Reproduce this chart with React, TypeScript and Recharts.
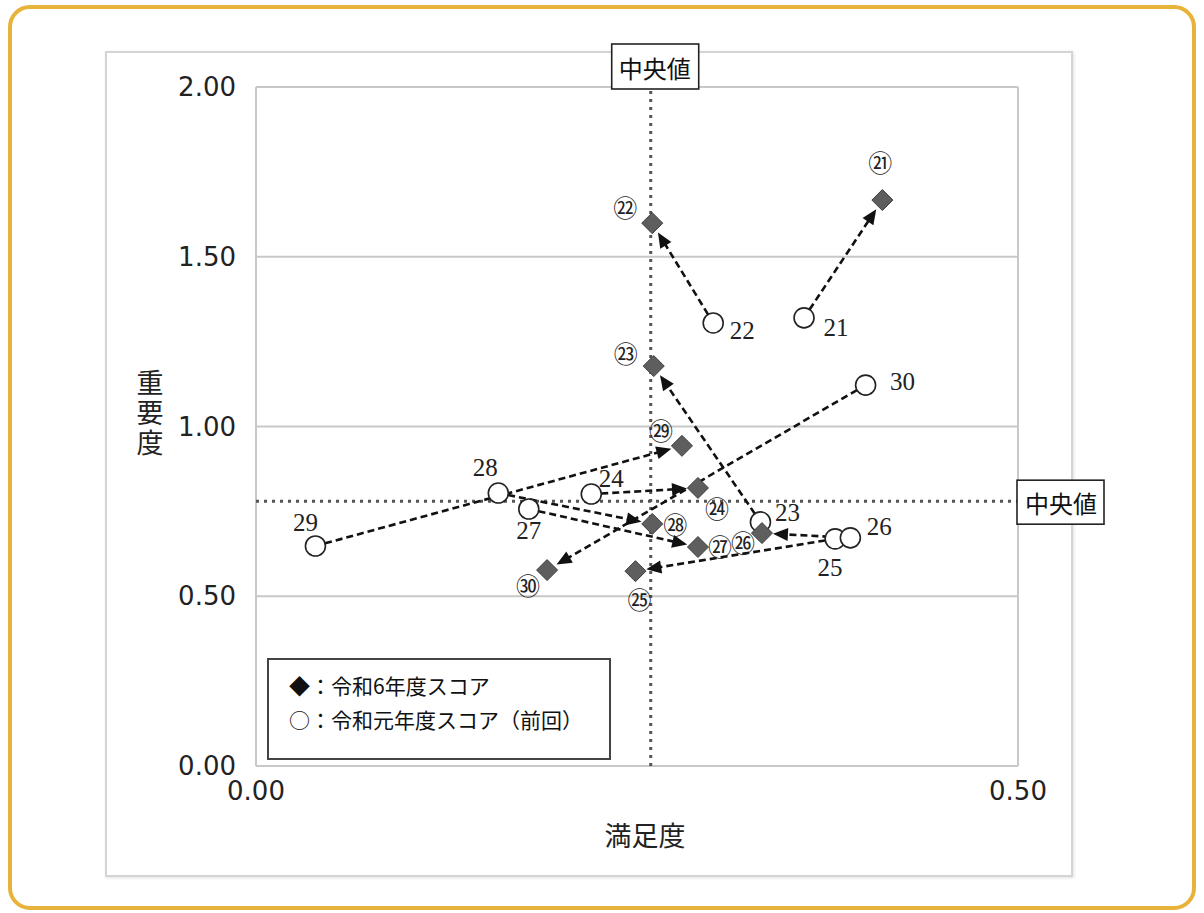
import React from 'react';
import { ScatterChart, Scatter, XAxis, YAxis, CartesianGrid, ReferenceLine, Label } from 'recharts';

// 項目番号 21〜30
const itemIds = [21, 22, 23, 24, 25, 26, 27, 28, 29, 30];

// 令和6年度スコア（◆）
const currSatisfaction = [0.411, 0.260, 0.261, 0.290, 0.249, 0.332, 0.290, 0.260, 0.2795, 0.191];
const currImportance = [1.667, 1.599, 1.178, 0.819, 0.574, 0.686, 0.645, 0.713, 0.943, 0.577];

// 令和元年度スコア（○）
const prevSatisfaction = [0.3596, 0.300, 0.331, 0.220, 0.380, 0.390, 0.179, 0.159, 0.039, 0.400];
const prevImportance = [1.320, 1.305, 0.719, 0.801, 0.669, 0.672, 0.757, 0.804, 0.648, 1.122];

// 中央値
const medianSatisfaction = 0.259;
const medianImportance = 0.78;

const xTicks = [0, 0.5];
const yTicks = [0, 0.5, 1, 1.5, 2];

// label offsets (px) from each mark
const prevLabelOffsets = [[32, 10], [29, 8], [27, -9], [20, -16], [-5, 29], [29, -11], [0, 22], [-13, -26], [-10, -24], [37, -4]];
const currLabelOffsets = [[-2, -39], [-27, -17], [-28, -14], [19, 20], [4, 27], [-19, 8], [22, -2], [23, 0], [-21, -16], [-19, 14]];

const currData = itemIds.map((id, i) => ({ id, idx: i, x: currSatisfaction[i], y: currImportance[i] }));
const prevData = itemIds.map((id, i) => ({ id, idx: i, x: prevSatisfaction[i], y: prevImportance[i] }));

const circled = (n: number) => String.fromCharCode(0x3251 + n - 21);

const Diamond = (props: any) => {
    const { cx, cy, payload } = props;
    const [dx, dy] = currLabelOffsets[payload.idx];
    const r = 10.5;
    return (
        <g>
            <polygon points={`${cx},${cy - r} ${cx + r},${cy} ${cx},${cy + r} ${cx - r},${cy}`} fill="#5e5e5e" stroke="#3c3c3c" strokeWidth={1} />
            <text x={cx + dx} y={cy + dy} textAnchor="middle" dominantBaseline="central" fontSize={24} fontFamily="'Noto Sans CJK JP'" fill="#222">
                {circled(payload.id)}
            </text>
        </g>
    );
};

const OpenCircle = (props: any) => {
    const { cx, cy, payload } = props;
    const [dx, dy] = prevLabelOffsets[payload.idx];
    return (
        <g>
            <circle cx={cx} cy={cy} r={10} fill="#fff" stroke="#222" strokeWidth={1.6} />
            <text x={cx + dx} y={cy + dy} textAnchor="middle" dominantBaseline="central" fontSize={25} fontFamily="'Liberation Serif'" fill="#222">
                {payload.id}
            </text>
        </g>
    );
};

const Arrow = (props: any) => {
    const { x1, y1, x2, y2 } = props;
    const len = Math.hypot(x2 - x1, y2 - y1);
    const ux = (x2 - x1) / len;
    const uy = (y2 - y1) / len;
    const tipX = x2 - ux * 11;
    const tipY = y2 - uy * 11;
    const bx = tipX - ux * 15;
    const by = tipY - uy * 15;
    const px = -uy * 6.5;
    const py = ux * 6.5;
    return (
        <g>
            <line x1={x1 + ux * 10} y1={y1 + uy * 10} x2={bx + ux * 2} y2={by + uy * 2} stroke="#111" strokeWidth={2.6} strokeDasharray="7 4" />
            <polygon points={`${tipX},${tipY} ${bx + px},${by + py} ${bx - px},${by - py}`} fill="#111" />
        </g>
    );
};

const TopMedianLabel = (props: any) => {
    const { x, y } = props.viewBox;
    return (
        <g>
            <rect x={x - 39} y={y - 43} width={87} height={45} fill="#fff" stroke="#222" strokeWidth={1.6} />
            <text x={x + 4} y={y - 20} textAnchor="middle" dominantBaseline="central" fontSize={24} fontFamily="'Noto Sans CJK JP'" fill="#111">中央値</text>
        </g>
    );
};

const RightMedianLabel = (props: any) => {
    const { x, y, width } = props.viewBox;
    const left = x + width - 1;
    return (
        <g>
            <rect x={left} y={y - 21} width={87} height={44} fill="#fff" stroke="#222" strokeWidth={1.6} />
            <text x={left + 44} y={y + 1} textAnchor="middle" dominantBaseline="central" fontSize={24} fontFamily="'Noto Sans CJK JP'" fill="#111">中央値</text>
        </g>
    );
};

const XTitle = (props: any) => {
    const { x, y, width } = props.viewBox;
    return (
        <text x={x + width / 2 + 8} y={y + 68} textAnchor="middle" dominantBaseline="central" fontSize={27} fontFamily="'Noto Sans CJK JP'" fill="#222">満足度</text>
    );
};

const YTitle = (props: any) => {
    const { x, y, height } = props.viewBox;
    const cx = x - 26;
    const cy = y + height / 2 - 12;
    return (
        <text x={cx} y={cy} textAnchor="middle" fontSize={27} fontFamily="'Noto Sans CJK JP'" fill="#222"
            style={{ writingMode: 'vertical-rl', letterSpacing: 3 }}>
            重要度
        </text>
    );
};

const App: React.FC = () => {
    const tickStyle = { fontSize: 26, fill: '#222', fontFamily: "'DejaVu Sans'" };
    return (
        <div style={{ position: 'absolute', left: 0, top: 0, width: 1204, height: 913, background: '#fff' }}>
            <div style={{ position: 'absolute', left: 8, top: 5, width: 1180, height: 897, border: '4px solid #E8B33B', borderRadius: 22 }} />
            <div style={{ position: 'absolute', left: 105, top: 51, width: 964, height: 822, border: '2px solid #d4d4d4', boxShadow: '1px 1px 3px rgba(0,0,0,0.12)' }} />
            <div style={{ position: 'absolute', left: 0, top: 0 }}>
                <ScatterChart width={1204} height={913} margin={{ top: 87, right: 186, bottom: 87, left: 176 }}>
                    <CartesianGrid stroke="#c8c8c8" strokeWidth={2} horizontalValues={yTicks} verticalValues={xTicks} />
                    <XAxis type="number" dataKey="x" domain={[0, 0.5]} ticks={xTicks} tickFormatter={(v: number) => v.toFixed(2)}
                        axisLine={false} tickLine={false} tick={tickStyle} tickMargin={10} height={60}>
                        <Label content={<XTitle />} />
                    </XAxis>
                    <YAxis type="number" dataKey="y" domain={[0, 2]} ticks={yTicks} tickFormatter={(v: number) => v.toFixed(2)}
                        axisLine={false} tickLine={false} tick={tickStyle} tickMargin={14} width={80}>
                        <Label content={<YTitle />} />
                    </YAxis>
                    <ReferenceLine x={medianSatisfaction} stroke="#555" strokeWidth={3} strokeDasharray="3 5" label={<TopMedianLabel />} />
                    <ReferenceLine y={medianImportance} stroke="#555" strokeWidth={3} strokeDasharray="3 5" label={<RightMedianLabel />} />
                    {itemIds.map((id, i) => (
                        <ReferenceLine
                            key={id}
                            segment={[{ x: prevSatisfaction[i], y: prevImportance[i] }, { x: currSatisfaction[i], y: currImportance[i] }]}
                            shape={<Arrow />}
                        />
                    ))}
                    <Scatter name="令和元年度スコア（前回）" data={prevData} shape={<OpenCircle />} isAnimationActive={false} />
                    <Scatter name="令和6年度スコア" data={currData} shape={<Diamond />} isAnimationActive={false} />
                </ScatterChart>
            </div>
            <div style={{
                position: 'absolute', left: 267, top: 658, width: 340, height: 90, border: '2px solid #444', background: '#fff',
                fontFamily: "'Noto Sans CJK JP'", fontSize: 21, color: '#111', lineHeight: '34px', paddingTop: 8, boxSizing: 'content-box',
            }}>
                <div style={{ paddingLeft: 20 }}>◆：令和6年度スコア</div>
                <div style={{ paddingLeft: 20 }}>○：令和元年度スコア（前回）</div>
            </div>
        </div>
    );
};

export default App;
